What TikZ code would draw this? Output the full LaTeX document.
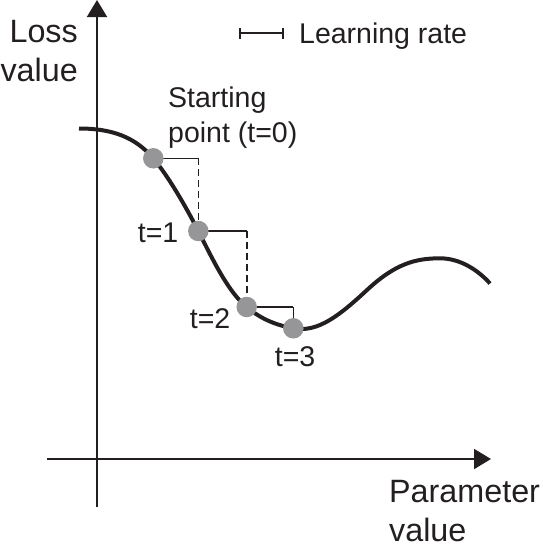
\documentclass[tikz,border=0pt]{standalone}
\usepackage{fontspec}
\setmainfont{Liberation Sans}
\usetikzlibrary{arrows.meta,positioning}
\definecolor{gdink}{RGB}{35,31,32}
\definecolor{gddot}{RGB}{150,150,153}

\begin{document}
\begin{tikzpicture}[x=1pt, y=-1pt,
  axis/.style={line width=2pt, gdink, -{Triangle[length=17pt, width=20pt]}},
  curve/.style={line width=4pt, gdink},
  stepline/.style={line width=1.6pt, gdink},
  dropline/.style={line width=1.6pt, gdink, dash pattern=on 7pt off 4pt},
  iterdot/.style={circle, fill=gddot, minimum size=20.5pt, inner sep=0pt},
  bigtext/.style={font=\fontsize{32.3}{39}\selectfont, inner sep=0pt, text=gdink},
  smalltext/.style={font=\fontsize{28.5}{35}\selectfont, inner sep=0pt, text=gdink}]
\useasboundingbox (0,0) rectangle (543,552);

% axes
\coordinate (yfoot) at (97,507);
\coordinate (ytip) at (97,0);
\coordinate (xfoot) at (47,459);
\coordinate (xtip) at (491,459);
\draw[axis] (yfoot) -- (ytip);
\draw[axis] (xfoot) -- (xtip);
\node[bigtext, align=right, anchor=north east] (ylabel) at (78,20) {Loss\\value};
\node[bigtext, align=left, anchor=north west] (xlabel) at (389,480) {Parameter\\value};

% legend
\coordinate (barl) at (239,33);
\coordinate (barr) at (284,33);
\draw[stepline, {Bar[width=11pt]}-{Bar[width=11pt]}] (barl) -- (barr);
\node[smalltext, anchor=base west] (legend) at (299,43) {Learning rate};

% loss curve
\coordinate (p0) at (153.3,158.3);
\coordinate (p1) at (198.3,231);
\coordinate (p2) at (246.7,307);
\coordinate (p3) at (293.3,328.3);
\draw[curve] (79,128.5) .. controls (112,128.5) and (135,137) .. (p0)
  .. controls (168,176) and (185,205) .. (p1)
  .. controls (212,258) and (228,292) .. (p2)
  .. controls (262,320) and (278,325.5) .. (p3)
  .. controls (318,333) and (340,315) .. (367,290)
  .. controls (395,264) and (415,258.3) .. (440,258.3)
  .. controls (460,258.3) and (478,270) .. (490,283.5);

% learning-rate steps
\draw[stepline] (p0) -- (p0 -| p1);
\draw[dropline] (p0 -| p1) -- (p1);
\draw[stepline] (p1) -- (p1 -| p2);
\draw[dropline] (p1 -| p2) -- (p2);
\draw[stepline] (p2) -- (p2 -| p3);
\draw[stepline] (p2 -| p3) -- (p3);

% iterations
\node[iterdot] (t0) at (p0) {};
\node[iterdot] (t1) at (p1) {};
\node[iterdot] (t2) at (p2) {};
\node[iterdot] (t3) at (p3) {};

\node[smalltext, align=left, anchor=north west] (start) at (168,86.5) {Starting\\point (t=0)};
\node[smalltext, anchor=base east] (l1) at (178.5,242.3) {t=1};
\node[smalltext, anchor=base east] (l2) at (230.5,328.3) {t=2};
\node[smalltext, anchor=base east] (l3) at (315.5,366.7) {t=3};
\end{tikzpicture}
\end{document}
